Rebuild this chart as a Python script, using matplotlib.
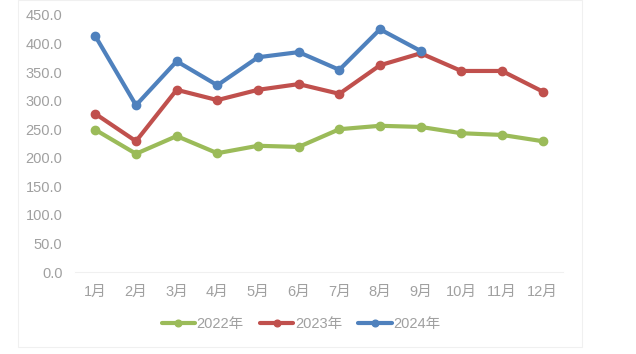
import matplotlib.pyplot as plt
from matplotlib.patches import Rectangle

plt.rcParams['font.family'] = ['Liberation Sans', 'Noto Sans CJK SC', 'DejaVu Sans']

months = ['1月', '2月', '3月', '4月', '5月', '6月', '7月', '8月', '9月', '10月', '11月', '12月']
y2022 = [249, 207, 238, 208, 221, 219, 250, 256, 254, 243, 240, 229]
y2023 = [277, 229, 319, 301, 319, 329, 312, 362, 383, 352, 352, 316]
y2024 = [413, 292, 369, 327, 376, 385, 354, 425, 387]

gray = '#a0a0a0'

fig = plt.figure(figsize=(6.36, 3.54), dpi=100)
fig.patches.append(Rectangle((18 / 636, 1 - 347 / 354), 564 / 636, 347 / 354,
                             transform=fig.transFigure, fill=False,
                             edgecolor='#f0f0f0', lw=0.8))
ax = fig.add_axes([75 / 636, 1 - 272 / 354, 488 / 636, 257 / 354])

x = list(range(len(months)))
ax.plot(x, y2022, color='#9BBB59', lw=3, marker='o', ms=6, label='2022年',
        solid_capstyle='round')
ax.plot(x, y2023, color='#C0504D', lw=3, marker='o', ms=6, label='2023年',
        solid_capstyle='round')
ax.plot(x[:len(y2024)], y2024, color='#4F81BD', lw=3, marker='o', ms=6, label='2024年',
        solid_capstyle='round')

ax.set_xlim(-0.5, 11.5)
ax.set_ylim(0, 450)
ax.set_yticks(range(0, 451, 50))
ax.set_yticklabels([f'{v:.1f}' for v in range(0, 451, 50)])
ax.set_xticks(x)
ax.set_xticklabels(months)
ax.tick_params(length=0, colors=gray, labelsize=10.5)
ax.tick_params(axis='y', pad=9)
ax.tick_params(axis='x', pad=9)
for s in ['top', 'right', 'left']:
    ax.spines[s].set_visible(False)
ax.spines['bottom'].set_color('#f0f0f0')

leg = fig.legend(loc='center', bbox_to_anchor=(301 / 636, 1 - 324 / 354), ncol=3,
                 frameon=False, fontsize=10.5, handlelength=2.3, columnspacing=1.1,
                 handletextpad=0.1, markerscale=0.8)
for t in leg.get_texts():
    t.set_color(gray)

fig.savefig('out.png', dpi=100)
